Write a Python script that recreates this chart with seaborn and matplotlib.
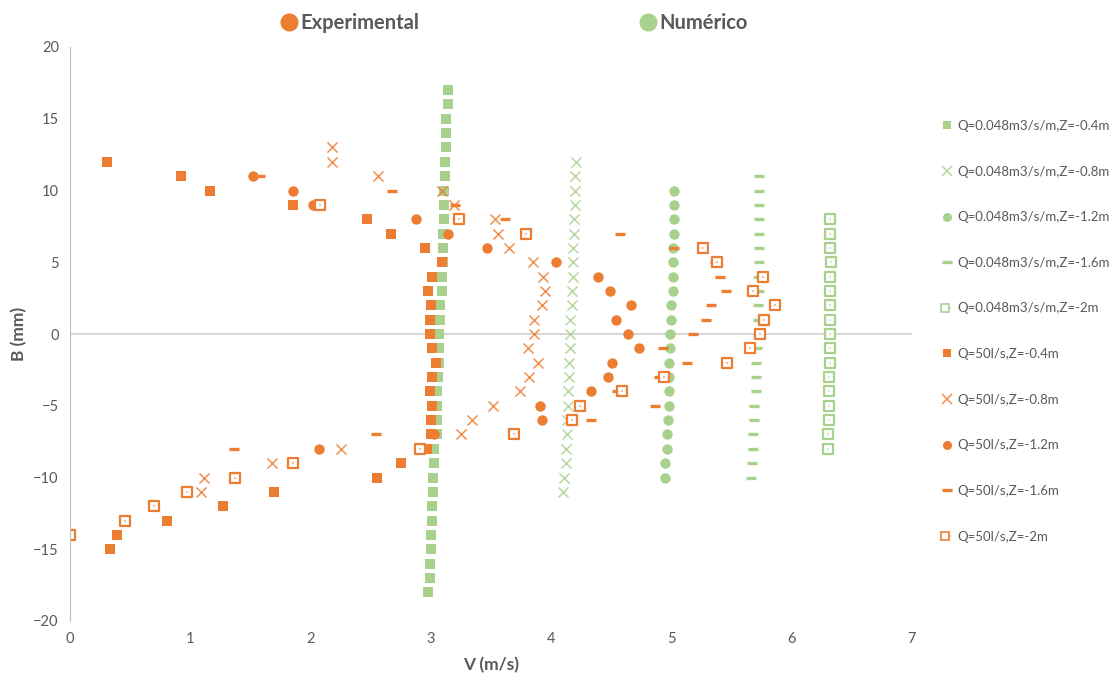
import matplotlib
matplotlib.use('Agg')
import matplotlib.pyplot as plt
import seaborn as sns
from matplotlib.lines import Line2D
from matplotlib.legend_handler import HandlerTuple

sns.set_style('white')
plt.rcParams['font.family'] = ['Lato', 'DejaVu Sans']

orange = '#ED7D31'
green = '#A9D18E'
grey = '#595959'

# Numérico series
num_b_04 = [17, 16, 15, 14, 13, 12, 11, 10, 9, 8, 7, 6, 5, 4, 3, 2, 1, 0, -1, -2, -3, -4,
            -5, -6, -7, -8, -9, -10, -11, -12, -13, -14, -15, -16, -17, -18]
num_v_04 = [3.14, 3.14, 3.13, 3.13, 3.13, 3.12, 3.12, 3.11, 3.11, 3.11, 3.10, 3.10, 3.10, 3.09,
            3.09, 3.08, 3.08, 3.07, 3.07, 3.07, 3.06, 3.05, 3.05, 3.05, 3.05, 3.03, 3.03, 3.02,
            3.02, 3.01, 3.01, 3.00, 3.00, 2.99, 2.99, 2.98]
num_b_08 = [12, 11, 10, 9, 8, 7, 6, 5, 4, 3, 2, 1, 0, -1, -2, -3, -4, -5, -6, -7, -8, -9, -10, -11]
num_v_08 = [4.21, 4.20, 4.20, 4.20, 4.19, 4.19, 4.18, 4.18, 4.18, 4.17, 4.17, 4.16, 4.16, 4.16,
            4.15, 4.15, 4.14, 4.14, 4.13, 4.13, 4.12, 4.12, 4.11, 4.10]
num_b_12 = [10, 9, 8, 7, 6, 5, 4, 3, 2, 1, 0, -1, -2, -3, -4, -5, -6, -7, -8, -9, -10]
num_v_12 = [5.02, 5.02, 5.02, 5.02, 5.01, 5.01, 5.01, 5.01, 5.00, 5.00, 4.99, 4.99, 4.98, 4.98,
            4.98, 4.98, 4.97, 4.96, 4.96, 4.95, 4.95]
num_b_16 = [11, 10, 9, 8, 7, 6, 5, 4, 3, 2, 1, 0, -1, -2, -3, -4, -5, -6, -7, -8, -9, -10]
num_v_16 = [5.73, 5.73, 5.73, 5.73, 5.73, 5.73, 5.73, 5.72, 5.73, 5.72, 5.72, 5.72, 5.71, 5.70,
            5.70, 5.70, 5.69, 5.69, 5.68, 5.68, 5.67, 5.66]
num_b_20 = [8, 7, 6, 5, 4, 3, 2, 1, 0, -1, -2, -3, -4, -5, -6, -7, -8]
num_v_20 = [6.32, 6.32, 6.32, 6.33, 6.32, 6.32, 6.32, 6.32, 6.32, 6.32, 6.32, 6.31, 6.31, 6.31,
            6.31, 6.30, 6.30]

# Experimental series
exp_b_04 = [12, 11, 10, 9, 8, 7, 6, 5, 4, 3, 2, 1, 0, -1, -2, -3, -4, -5, -6, -7, -8, -9, -10,
            -11, -12, -13, -14, -15]
exp_v_04 = [0.31, 0.92, 1.16, 1.85, 2.47, 2.67, 2.95, 3.09, 3.01, 2.98, 3.00, 2.99, 2.99, 3.01,
            3.04, 3.01, 2.99, 3.01, 3.00, 3.00, 2.97, 2.75, 2.55, 1.70, 1.27, 0.81, 0.39, 0.33]
exp_b_08 = [13, 12, 11, 10, 9, 8, 7, 6, 5, 4, 3, 2, 1, 0, -1, -2, -3, -4, -5, -6, -7, -8, -9,
            -10, -11]
exp_v_08 = [2.18, 2.18, 2.56, 3.09, 3.19, 3.53, 3.56, 3.65, 3.85, 3.93, 3.95, 3.92, 3.86, 3.86,
            3.81, 3.89, 3.82, 3.74, 3.52, 3.34, 3.25, 2.25, 1.68, 1.11, 1.09]
exp_b_12 = [11, 10, 9, 8, 7, 6, 5, 4, 3, 2, 1, 0, -1, -2, -3, -4, -5, -6, -7, -8]
exp_v_12 = [1.52, 1.85, 2.02, 2.88, 3.14, 3.47, 4.04, 4.39, 4.49, 4.66, 4.54, 4.64, 4.73, 4.51,
            4.47, 4.33, 3.91, 3.92, 3.03, 2.07]
exp_b_16 = [11, 10, 9, 8, 7, 6, 5, 4, 3, 2, 1, 0, -1, -2, -3, -4, -5, -6, -7, -8]
exp_v_16 = [1.58, 2.68, 3.20, 3.62, 4.57, 5.02, 5.36, 5.40, 5.45, 5.33, 5.29, 5.18, 4.93, 5.13,
            4.90, 4.55, 4.86, 4.33, 2.54, 1.36]
exp_b_20 = [9, 8, 7, 6, 5, 4, 3, 2, 1, 0, -1, -2, -3, -4, -5, -6, -7, -8, -9, -10, -11, -12,
            -13, -14]
exp_v_20 = [2.08, 3.23, 3.79, 5.26, 5.38, 5.76, 5.68, 5.86, 5.77, 5.74, 5.65, 5.46, 4.94, 4.59,
            4.24, 4.17, 3.69, 2.91, 1.85, 1.37, 0.97, 0.70, 0.46, 0.00]

labels = ['Q=0.048m3/s/m,Z=-0.4m', 'Q=0.048m3/s/m,Z=-0.8m', 'Q=0.048m3/s/m,Z=-1.2m',
          'Q=0.048m3/s/m,Z=-1.6m', 'Q=0.048m3/s/m,Z=-2m',
          'Q=50l/s,Z=-0.4m', 'Q=50l/s,Z=-0.8m', 'Q=50l/s,Z=-1.2m', 'Q=50l/s,Z=-1.6m',
          'Q=50l/s,Z=-2m']

series = [
    (num_v_04, num_b_04, green), (num_v_08, num_b_08, green), (num_v_12, num_b_12, green),
    (num_v_16, num_b_16, green), (num_v_20, num_b_20, green),
    (exp_v_04, exp_b_04, orange), (exp_v_08, exp_b_08, orange), (exp_v_12, exp_b_12, orange),
    (exp_v_16, exp_b_16, orange), (exp_v_20, exp_b_20, orange),
]
kinds = ['sq', 'x', 'o', 'dash', 'box'] * 2

fig = plt.figure(figsize=(11.13, 6.8), dpi=100)
ax = fig.add_axes([70 / 1113, 59 / 680, 842 / 1113, 574 / 680])

handles = []
for (v, b, c), kind in zip(series, kinds):
    if kind == 'sq':
        sns.scatterplot(x=v, y=b, marker='s', s=56, color=c, linewidth=0, ax=ax)
        h = Line2D([], [], ls='', marker='s', ms=6, color=c, mew=0)
    elif kind == 'x':
        sns.scatterplot(x=v, y=b, marker='x', s=52, color=c, linewidth=1.1, alpha=0.85, ax=ax)
        h = Line2D([], [], ls='', marker='x', ms=7, color=c, mew=1.1, alpha=0.85)
    elif kind == 'o':
        sns.scatterplot(x=v, y=b, marker='o', s=56, color=c, linewidth=0, ax=ax)
        h = Line2D([], [], ls='', marker='o', ms=6.5, color=c, mew=0)
    elif kind == 'dash':
        sns.scatterplot(x=v, y=b, marker='_', s=60, color=c, linewidth=2.4, ax=ax)
        h = Line2D([], [], ls='', marker='_', ms=7, color=c, mew=2.4)
    else:
        sns.scatterplot(x=v, y=b, marker='s', s=46, facecolor='white', edgecolor=c,
                        linewidth=1.6, ax=ax)
        sns.scatterplot(x=v, y=b, marker='s', s=3, color=c, alpha=0.5, linewidth=0, ax=ax)
        h = (Line2D([], [], ls='', marker='s', ms=6, mfc='white', mec=c, mew=1.2),
             Line2D([], [], ls='', marker='s', ms=1.5, color=c, alpha=0.5, mew=0))
    handles.append(h)

ax.set_xlim(0, 7)
ax.set_ylim(-20, 20)
ax.set_xticks(range(0, 8))
ax.set_yticks(range(-20, 21, 5))
ax.axhline(0, color='#D0D0D0', lw=1.2, zorder=0)
sns.despine(ax=ax, top=True, right=True, bottom=True)
ax.spines['left'].set_color('#BFBFBF')
ax.tick_params(length=0, labelsize=10.5, colors=grey, pad=8)
ax.set_xlabel('V (m/s)', fontsize=12.5, fontweight='bold', color=grey, labelpad=8)
ax.set_ylabel('B (mm)', fontsize=12.5, fontweight='bold', color=grey, labelpad=4)

ax.legend(handles, labels, handler_map={tuple: HandlerTuple(ndivide=None, pad=0)},
          loc='upper left', bbox_to_anchor=(930 / 1113, 1 - 108 / 680),
          bbox_transform=fig.transFigure, frameon=False, fontsize=9.5,
          labelspacing=2.55, handlelength=0.8, handletextpad=0.4, labelcolor=grey)

top = [Line2D([], [], ls='', marker='o', ms=13, color=orange, mew=0),
       Line2D([], [], ls='', marker='o', ms=13, color=green, mew=0)]
fig.legend(top, ['Experimental', 'Numérico'], loc='center', ncol=2,
           bbox_to_anchor=(515 / 1113, 1 - 23 / 680), frameon=False,
           prop={'size': 14.5, 'weight': 'bold'}, labelcolor=grey,
           handlelength=0.7, handletextpad=0.2, columnspacing=11)

fig.savefig('out.png', dpi=100)
